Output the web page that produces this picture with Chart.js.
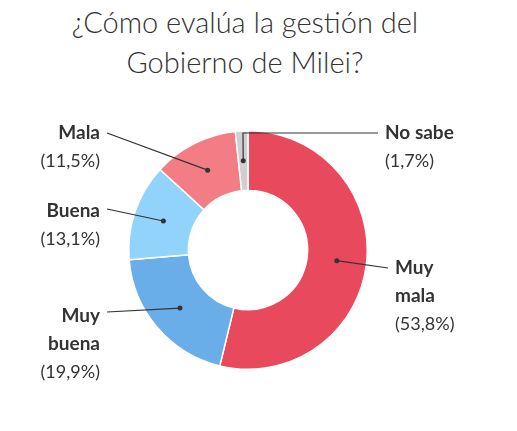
<!DOCTYPE html>
<html lang="es">
<head>
  <meta charset="UTF-8">
  <script src="https://cdn.jsdelivr.net/npm/chart.js"></script>
  <style>
    body { margin: 0; background: #fff; font-family: 'Lato', sans-serif; }
    .wrap { position: relative; width: 517px; height: 431px; }
    h1 {
      position: absolute; left: 0; top: 2px; width: 490px; margin: 0;
      text-align: center; font-weight: 300; font-size: 29px; line-height: 40px; color: #333;
    }
    canvas { position: absolute; left: 0; top: 0; }
  </style>
</head>
<body>
  <div class="wrap">
    <h1>¿Cómo evalúa la gestión del<br>Gobierno de Milei?</h1>
    <canvas id="chart" width="517" height="431"></canvas>
  </div>
  <script>
    const categories = ['Muy mala', 'Muy buena', 'Buena', 'Mala', 'No sabe'];
    const values = [53.8, 19.9, 13.1, 11.5, 1.7];
    const valueLabels = ['(53,8%)', '(19,9%)', '(13,1%)', '(11,5%)', '(1,7%)'];
    const colors = ['#e9495c', '#6aaee9', '#92d3fb', '#f37d84', '#cfcfcf'];

    // where each label sits and where its leader line ends
    const labelSpots = [
      { lines: ['Muy', 'mala'], x: 395, y: 268, align: 'left', end: [388, 268] },
      { lines: ['Muy', 'buena'], x: 100, y: 316, align: 'right', end: [107, 312] },
      { lines: ['Buena'], x: 100, y: 211, align: 'right', end: [107, 209] },
      { lines: ['Mala'], x: 100, y: 133, align: 'right', end: [107, 133] },
      { lines: ['No sabe'], x: 385, y: 133, align: 'left', end: [378, 133], elbow: [243, 133] }
    ];

    const leaders = {
      id: 'leaders',
      afterDatasetsDraw(chart) {
        const ctx = chart.ctx;
        const arcs = chart.getDatasetMeta(0).data;
        ctx.save();
        arcs.forEach((arc, i) => {
          const s = labelSpots[i];
          const p = arc.tooltipPosition();
          ctx.strokeStyle = '#333';
          ctx.lineWidth = 1.2;
          ctx.beginPath();
          ctx.moveTo(p.x, p.y);
          if (s.elbow) ctx.lineTo(s.elbow[0], s.elbow[1]);
          ctx.lineTo(s.end[0], s.end[1]);
          ctx.stroke();
          ctx.fillStyle = '#333';
          ctx.beginPath();
          ctx.arc(p.x, p.y, 2.5, 0, Math.PI * 2);
          ctx.fill();

          ctx.textAlign = s.align;
          ctx.textBaseline = 'middle';
          ctx.font = 'bold 19px Lato';
          let y = s.y;
          s.lines.forEach(t => { ctx.fillText(t, s.x, y); y += 28; });
          ctx.font = '18px Lato';
          ctx.fillText(valueLabels[i], s.x, y);
        });
        ctx.restore();
      }
    };

    new Chart(document.getElementById('chart'), {
      type: 'doughnut',
      data: {
        labels: categories,
        datasets: [{
          data: values,
          backgroundColor: colors,
          borderColor: '#fff',
          borderWidth: 1.5
        }]
      },
      options: {
        responsive: false,
        animation: false,
        cutout: '50%',
        layout: { padding: { top: 130, bottom: 61, left: 128, right: 149 } },
        plugins: { legend: { display: false }, tooltip: { enabled: false } }
      },
      plugins: [leaders]
    });
  </script>
</body>
</html>
